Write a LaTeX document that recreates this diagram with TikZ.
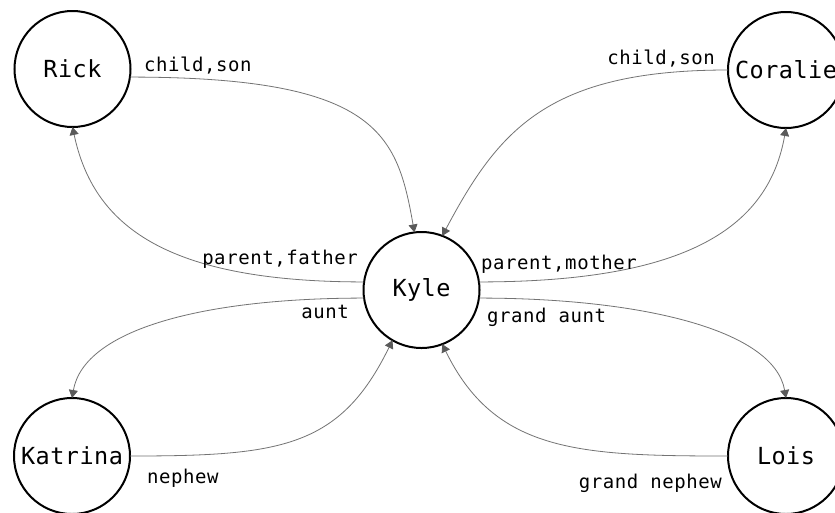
\documentclass[tikz,border=0pt]{standalone}
\usepackage{fontspec}
\newfontfamily\nodefont{DejaVu Sans Mono}[LetterSpace=2]
\newfontfamily\labelfont{DejaVu Sans Mono}[LetterSpace=3]
\usetikzlibrary{arrows.meta}
\definecolor{edgegray}{RGB}{115,115,115}
\definecolor{tipgray}{RGB}{90,90,90}
\begin{document}
\begin{tikzpicture}[x=1pt,y=1pt,
  person/.style={circle, draw=black, line width=2pt, fill=white, minimum size=116pt, inner sep=0pt, outer sep=0pt, font=\nodefont\fontsize{23.5pt}{27pt}\selectfont},
  rel/.style={draw=edgegray, line width=0.8pt, -{Triangle[length=8pt,width=9pt,color=tipgray]}},
  lbl/.style={inner sep=0pt, font=\labelfont\fontsize{19pt}{22pt}\selectfont}]
\useasboundingbox (0,0) rectangle (835,-512);
\fill[white] (0,0) rectangle (835,-512);
% people
\node[person] (rick) at (72.5,-69) {Rick};
\node[person] (coralie) at (786,-70) {Coralie};
\node[person] (kyle) at (421.5,-290) {Kyle};
\node[person] (katrina) at (72,-456) {Katrina};
\node[person] (lois) at (786,-456) {Lois};
% relations
\draw[rel] (rick.-8) to[out=0,in=100,out distance=248pt,in distance=100pt] (kyle.97);
\draw[rel] (kyle.172) to[out=180,in=-78,out distance=200pt,in distance=100pt] (rick.-90);
\draw[rel] (coralie.180) to[out=180,in=62,out distance=180pt,in distance=120pt] (kyle.69);
\draw[rel] (kyle.8) to[out=0,in=-100,out distance=210pt,in distance=100pt] (coralie.-90);
\draw[rel] (kyle.-172) to[out=180,in=80,out distance=160pt,in distance=70pt] (katrina.90);
\draw[rel] (katrina.0) to[out=0,in=-116,out distance=150pt,in distance=120pt] (kyle.-120);
\draw[rel] (kyle.-8) to[out=0,in=100,out distance=160pt,in distance=70pt] (lois.90);
\draw[rel] (lois.180) to[out=180,in=-64,out distance=150pt,in distance=120pt] (kyle.-69);
% labels
\node[lbl, anchor=base west] (l1) at (144,-71) {child,son};
\node[lbl, anchor=base east] (l2) at (358,-264) {parent,father};
\node[lbl, anchor=base east] (l3) at (715,-64) {child,son};
\node[lbl, anchor=base west] (l4) at (481,-269) {parent,mother};
\node[lbl, anchor=base east] (l5) at (349,-318) {aunt};
\node[lbl, anchor=base west] (l6) at (487,-322) {grand aunt};
\node[lbl, anchor=base west] (l7) at (147,-483) {nephew};
\node[lbl, anchor=base east] (l8) at (722,-488) {grand nephew};
\end{tikzpicture}
\end{document}
